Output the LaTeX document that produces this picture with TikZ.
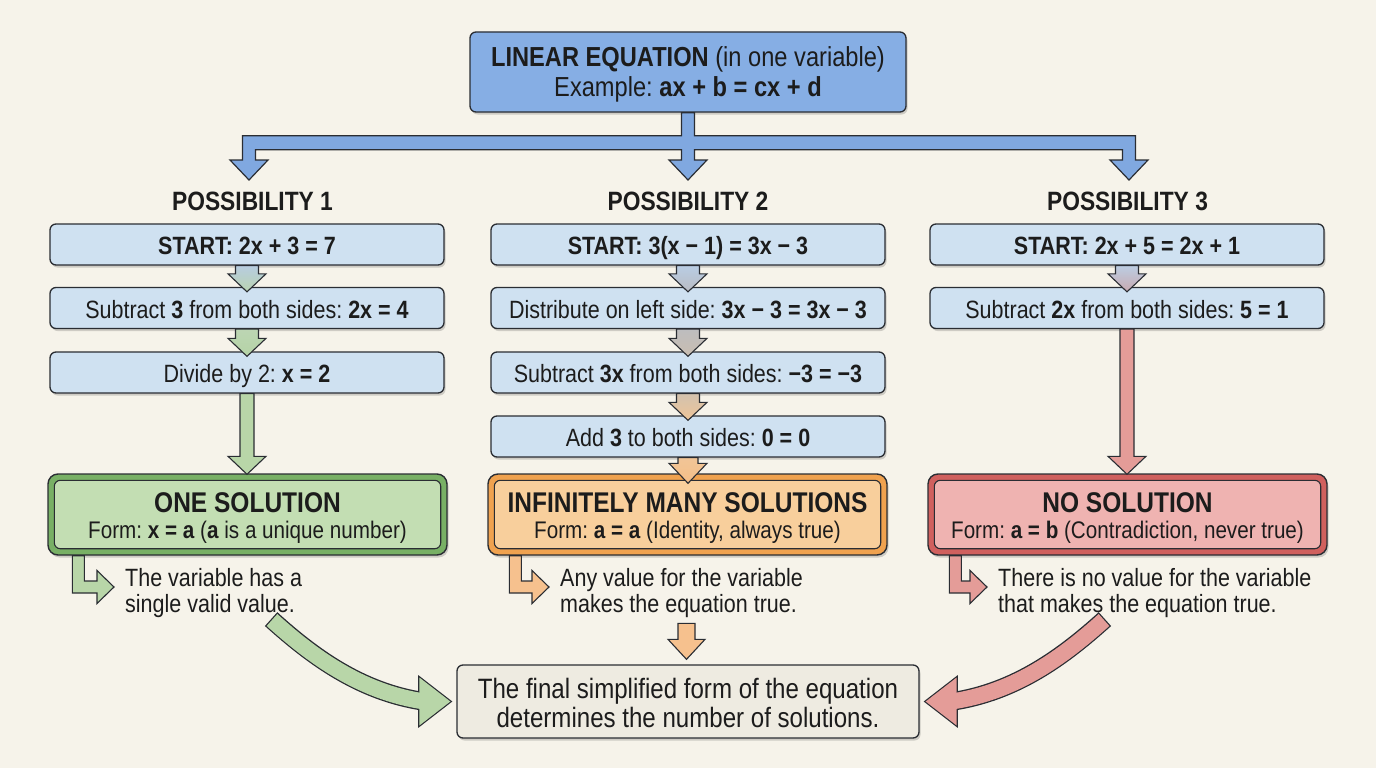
\documentclass[tikz,border=0pt]{standalone}
\usepackage{fontspec}
\setmainfont[FakeStretch=0.86]{Liberation Sans}
\usetikzlibrary{calc,shadows}
\frenchspacing

\definecolor{bg}{HTML}{F6F3EA}
\definecolor{ink}{HTML}{1C1C1C}
\definecolor{edge}{HTML}{2A2D33}
\definecolor{topfill}{HTML}{86AEE4}
\definecolor{conn}{HTML}{80A8E0}
\definecolor{stepfill}{HTML}{CFE1F1}
\definecolor{gband}{HTML}{78B065}
\definecolor{gin}{HTML}{C3DEB3}
\definecolor{oband}{HTML}{F0A24F}
\definecolor{oin}{HTML}{F8CF9C}
\definecolor{rband}{HTML}{D0605E}
\definecolor{rin}{HTML}{EFB3B1}
\definecolor{garr}{HTML}{B8D6A8}
\definecolor{oarr}{HTML}{F6C18E}
\definecolor{rarr}{HTML}{E49C98}
\definecolor{botfill}{HTML}{EEEBE1}
\definecolor{cA}{HTML}{B8CDE0}
\definecolor{cB}{HTML}{B9D3B0}
\definecolor{cC}{HTML}{BCD5B3}
\definecolor{cD}{HTML}{B5D4A6}
\definecolor{cE}{HTML}{B9CDE4}
\definecolor{cF}{HTML}{B9BBC2}
\definecolor{cG}{HTML}{BDBDBF}
\definecolor{cH}{HTML}{C9BDB0}
\definecolor{cI}{HTML}{D3C2AE}
\definecolor{cJ}{HTML}{EDC498}
\definecolor{cK}{HTML}{F1C597}
\definecolor{cL}{HTML}{F5BF88}
\definecolor{cM}{HTML}{BCCDE2}
\definecolor{cN}{HTML}{C8A9B0}

\newcommand\fz[2]{\fontsize{#1}{#2}\selectfont}
% vertical block arrow: #1 start, #2 tip, #3 half shaft, #4 half head, #5 head length, #6 fill options
\newcommand\varr[6]{\path[draw=edge,line width=1.1pt,line join=miter,#6] let \p1=(#1),\p2=(#2) in
  (\x1-#3,\y1) -- (\x1+#3,\y1) -- (\x1+#3,\y2+#5) -- (\x1+#4,\y2+#5) -- (\x1,\y2)
  -- (\x1-#4,\y2+#5) -- (\x1-#3,\y2+#5) -- cycle;}
% bent callout arrow: #1 result node, #2 stem offset, #3 text node, #4 fill
\newcommand\carr[4]{\path[draw=edge,line width=1.1pt,line join=miter,fill=#4] let \p1=(#1.south west),\p2=(#3.west) in
  (\x1+#2-6pt,\y1) -- (\x1+#2-6pt,\y2+0.5pt) -- (\x2-28pt,\y2+0.5pt) -- (\x2-28pt,\y2-10pt)
  -- (\x2-11pt,\y2+6.5pt) -- (\x2-28pt,\y2+23pt) -- (\x2-28pt,\y2+12.5pt)
  -- (\x1+#2+6pt,\y2+12.5pt) -- (\x1+#2+6pt,\y1) -- cycle;}

\begin{document}
\begin{tikzpicture}[x=1pt,y=-1pt,
  box/.style={draw=edge,line width=1.3pt,rounded corners=6pt,inner sep=0pt},
  shad/.style={drop shadow={shadow xshift=1.5pt,shadow yshift=-2.5pt,opacity=0.16,fill=black}},
  stepbox/.style={box,shad,fill=stepfill,minimum width=394pt,minimum height=41pt,text=ink,
    font=\fz{25}{28},text height=20pt,text depth=0pt},
  headtxt/.style={anchor=base,text=ink,inner sep=0pt,font=\fz{26.5}{30}\bfseries},
  basetxt/.style={anchor=base,text=ink,inner sep=0pt},
  resout/.style={box,shad,fill=#1,minimum width=399pt,minimum height=81pt,rounded corners=10pt,line width=1.4pt},
  resin/.style={draw=edge,line width=1.1pt,fill=#1,rounded corners=6pt},
  calltxt/.style={anchor=west,text=ink,inner sep=0pt,align=left,font=\fz{25}{26}},
]
\fill[bg] (0,0) rectangle (1376,768);
\useasboundingbox (0,0) rectangle (1376,768);

% top box
\node[box,shad,fill=topfill,minimum width=436pt,minimum height=80pt] (top) at (688,72) {};
\node[basetxt,font=\fz{27.5}{30}] (topa) at (688,66.5) {\textbf{LINEAR EQUATION} (in one variable)};
\node[basetxt,font=\fz{27.5}{30}] (topb) at (688,96.5) {Example: \textbf{ax + b = cx + d}};

% headings
\node[headtxt] (h1) at (252.5,210) {POSSIBILITY 1};
\node[headtxt] (h2) at (688,210) {POSSIBILITY 2};
\node[headtxt] (h3) at (1127.5,210) {POSSIBILITY 3};
\coordinate (a1) at (249,180);
\coordinate (a2) at (688,180);
\coordinate (a3) at (1129,180);

% branching connector
\path[draw=edge,line width=1.2pt,fill=conn,line join=miter] let \p0=(top.south),\p1=(a1),\p2=(a2),\p3=(a3) in
  (\x0-6.5pt,\y0) -- (\x0-6.5pt,\y0-23pt) -- (\x1-6.5pt,\y0-23pt) -- (\x1-6.5pt,\y1+20pt)
  -- (\x1-19pt,\y1+20pt) -- (\x1,\y1) -- (\x1+19pt,\y1+20pt) -- (\x1+6.5pt,\y1+20pt)
  -- (\x1+6.5pt,\y0-37pt) -- (\x2-6.5pt,\y0-37pt) -- (\x2-6.5pt,\y2+20pt)
  -- (\x2-19pt,\y2+20pt) -- (\x2,\y2) -- (\x2+19pt,\y2+20pt) -- (\x2+6.5pt,\y2+20pt)
  -- (\x2+6.5pt,\y0-37pt) -- (\x3-6.5pt,\y0-37pt) -- (\x3-6.5pt,\y3+20pt)
  -- (\x3-19pt,\y3+20pt) -- (\x3,\y3) -- (\x3+19pt,\y3+20pt) -- (\x3+6.5pt,\y3+20pt)
  -- (\x3+6.5pt,\y0-23pt) -- (\x0+6.5pt,\y0-23pt) -- (\x0+6.5pt,\y0) -- cycle;

% steps
\node[stepbox] (s11) at (247,244.5) {\textbf{START: 2x + 3 = 7}};
\node[stepbox] (s12) at (247,308) {Subtract \textbf{3} from both sides: \textbf{2x = 4}};
\node[stepbox] (s13) at (247,372.5) {Divide by 2: \textbf{x = 2}};

\node[stepbox] (s21) at (688,244.5) {\textbf{START: 3(x − 1) = 3x − 3}};
\node[stepbox] (s22) at (688,308) {Distribute on left side: \textbf{3x − 3 = 3x − 3}};
\node[stepbox] (s23) at (688,372.5) {Subtract \textbf{3x} from both sides: \textbf{−3 = −3}};
\node[stepbox] (s24) at (688,436.5) {Add \textbf{3} to both sides: \textbf{0 = 0}};

\node[stepbox] (s31) at (1127,244.5) {\textbf{START: 2x + 5 = 2x + 1}};
\node[stepbox] (s32) at (1127,308) {Subtract \textbf{2x} from both sides: \textbf{5 = 1}};

% result boxes
\node[resout=gband] (r1) at (247.5,514.5) {};
\draw[resin=gin] ([shift={(7pt,-7pt)}]r1.north west) rectangle ([shift={(-7pt,7pt)}]r1.south east);
\node[basetxt,font=\fz{28.5}{30}\bfseries] (r1a) at (247.5,512) {ONE SOLUTION};
\node[basetxt,font=\fz{24}{28}] (r1b) at (247.5,538) {Form: \textbf{x = a} (\textbf{a} is a unique number)};

\node[resout=oband] (r2) at (687.5,514.5) {};
\draw[resin=oin] ([shift={(7pt,-7pt)}]r2.north west) rectangle ([shift={(-7pt,7pt)}]r2.south east);
\node[basetxt,font=\fz{28.5}{30}\bfseries] (r2a) at (687.5,512) {INFINITELY MANY SOLUTIONS};
\node[basetxt,font=\fz{24}{28}] (r2b) at (687.5,538) {Form: \textbf{a = a} (Identity, always true)};

\node[resout=rband] (r3) at (1127.5,514.5) {};
\draw[resin=rin] ([shift={(7pt,-7pt)}]r3.north west) rectangle ([shift={(-7pt,7pt)}]r3.south east);
\node[basetxt,font=\fz{28.5}{30}\bfseries] (r3a) at (1127.5,512) {NO SOLUTION};
\node[basetxt,font=\fz{24}{28}] (r3b) at (1127.5,538) {Form: \textbf{a = b} (Contradiction, never true)};

% step arrows
\varr{s11.south}{$(s12.north)+(0,5)$}{11.5pt}{19pt}{18pt}{top color=cA,bottom color=cB}
\varr{s12.south}{$(s13.north)+(0,5)$}{11.5pt}{19pt}{18pt}{top color=cC,bottom color=cD}
\varr{s13.south}{$(r1.north)+(0,1)$}{7pt}{19pt}{18pt}{fill=garr}

\varr{s21.south}{$(s22.north)+(0,5)$}{11.5pt}{19pt}{18pt}{top color=cE,bottom color=cF}
\varr{s22.south}{$(s23.north)+(0,5)$}{11.5pt}{19pt}{18pt}{top color=cG,bottom color=cH}
\varr{s23.south}{$(s24.north)+(0,5)$}{11.5pt}{19pt}{18pt}{top color=cI,bottom color=cJ}
\varr{s24.south}{$(r2.north)+(0,10)$}{10pt}{19pt}{20pt}{top color=cK,bottom color=cL}

\varr{s31.south}{$(s32.north)+(0,5)$}{11.5pt}{19pt}{18pt}{top color=cM,bottom color=cN}
\varr{s32.south}{$(r3.north)+(0,1)$}{7pt}{19pt}{18pt}{fill=rarr}

% callouts
\node[calltxt] (c1) at (125,593.5) {The variable has a\\single valid value.};
\node[calltxt] (c2) at (560,593.5) {Any value for the variable\\makes the equation true.};
\node[calltxt] (c3) at (998,593.5) {There is no value for the variable\\that makes the equation true.};
\carr{r1}{31pt}{c1}{garr}
\carr{r2}{28pt}{c2}{oarr}
\carr{r3}{28pt}{c3}{rarr}

% bottom box
\node[box,shad,fill=botfill,minimum width=462pt,minimum height=73pt] (bot) at (688,701.5) {};
\node[basetxt,font=\fz{28}{29}] (bota) at (688,698) {The final simplified form of the equation};
\node[basetxt,font=\fz{28}{29}] (botb) at (688,727) {determines the number of solutions.};

% middle small arrow
\varr{$(c2.south -| bot.north)+(-1.5,5)$}{$(bot.north)+(-1.5,-5)$}{8.5pt}{18.5pt}{20pt}{fill=oarr}

% curved arrows
\coordinate (g0) at (272,620);
\coordinate (gb) at ($(bot.west)+(-37,0)$);
\coordinate (gt) at ($(bot.west)+(-6,0)$);
\draw[edge,line width=18.6pt] ($(g0)+(-0.9,-0.9)$) .. controls (312,656) and (360,692) .. ($(gb)+(5,0)$);
\draw[edge,line width=2.4pt,line join=miter] ($(gb)+(0,-24)$) -- (gt) -- ($(gb)+(0,24)$) -- cycle;
\fill[garr] ($(gb)+(0,-24)$) -- (gt) -- ($(gb)+(0,24)$) -- cycle;
\draw[garr,line width=16pt] (g0) .. controls (312,656) and (360,692) .. ($(gb)+(5,0)$);

\coordinate (q0) at (1104,620);
\coordinate (qb) at ($(bot.east)+(37,0)$);
\coordinate (qt) at ($(bot.east)+(6,0)$);
\draw[edge,line width=18.6pt] ($(q0)+(0.9,-0.9)$) .. controls (1064,656) and (1016,692) .. ($(qb)+(-5,0)$);
\draw[edge,line width=2.4pt,line join=miter] ($(qb)+(0,-24)$) -- (qt) -- ($(qb)+(0,24)$) -- cycle;
\fill[rarr] ($(qb)+(0,-24)$) -- (qt) -- ($(qb)+(0,24)$) -- cycle;
\draw[rarr,line width=16pt] (q0) .. controls (1064,656) and (1016,692) .. ($(qb)+(-5,0)$);
\end{tikzpicture}
\end{document}
